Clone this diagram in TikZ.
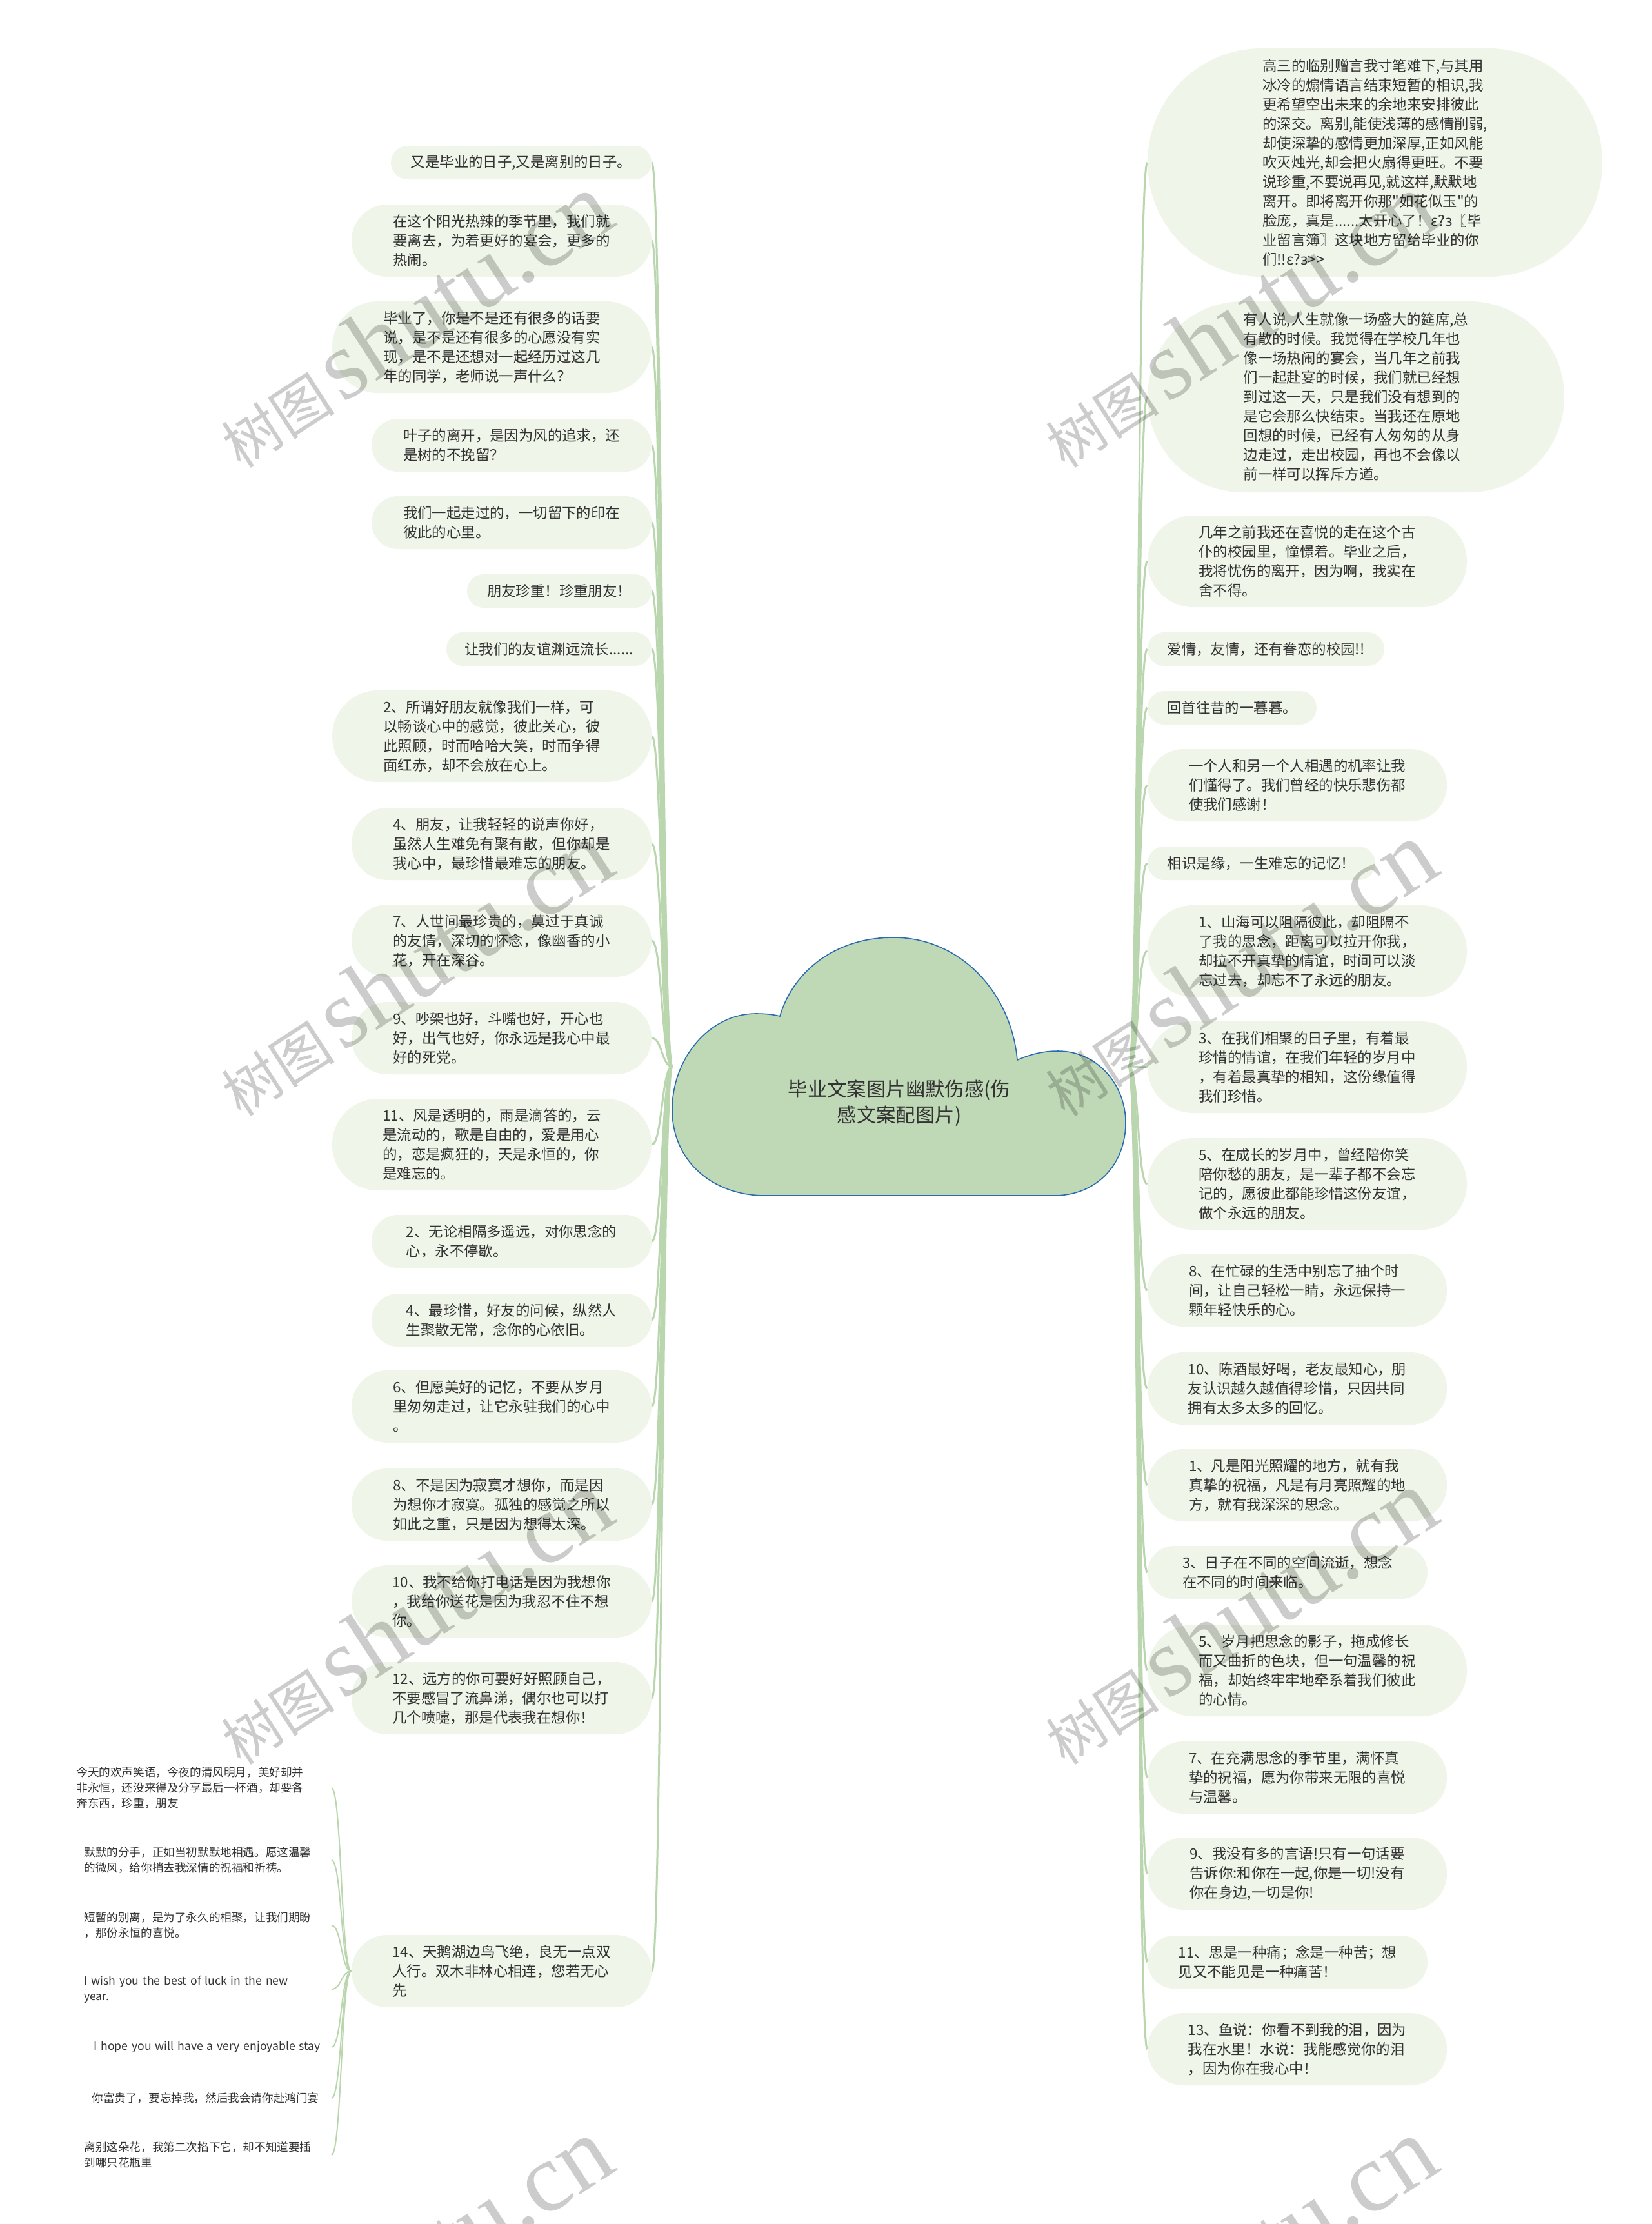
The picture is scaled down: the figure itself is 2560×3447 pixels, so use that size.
\documentclass[tikz,border=0pt]{standalone}
\usepackage{fontspec}
\setmainfont{Noto Sans CJK SC}[Ligatures=TeXOff]
\newfontfamily\wmlat{Liberation Serif}[Ligatures=TeXOff]
\usetikzlibrary{backgrounds}
\pgfdeclarelayer{fg}
\pgfsetlayers{background,main,fg}
\definecolor{nodefill}{HTML}{EFF5E8}
\definecolor{linec}{HTML}{B9D6AF}
\definecolor{cloudfill}{HTML}{BFD9B7}
\definecolor{cloudline}{HTML}{2B6CB0}
\definecolor{txt}{HTML}{333333}
\tikzset{
  pillbox/.style={fill=nodefill, inner sep=0pt, align=left, text=txt,
    font=\fontsize{11.2pt}{15pt}\selectfont},
  subbox/.style={inner sep=0pt, align=left, text=txt, anchor=west,
    font=\fontsize{8.8pt}{12pt}\selectfont},
  conn/.style={draw=linec, line width=1.5pt},
  subconn/.style={draw=linec, line width=1pt},
  wm/.style={text=black, text opacity=0.2, inner sep=0pt, rotate=33},
}
\newcommand\mkpill[6]{%
  \pgfmathsetmacro\pw{#4/2}%
  \pgfmathsetmacro\ph{#5/2}%
  \pgfmathsetmacro\pr{#5/4}%
  \node[pillbox,minimum width=\pw pt,minimum height=\ph pt,rounded corners=\pr pt] (#1) at (#2,#3) {#6};}
\newcommand\mksub[4]{%
  \pgfmathsetmacro\tw{(513-#2)/2}%
  \node[subbox,text width=\tw pt] (#1) at (#2,#3) {#4};}
\newcommand\wmtext{{\fontsize{44pt}{44pt}\selectfont 树图}\hspace{6pt}{\wmlat\fontsize{76pt}{76pt}\selectfont shutu.cn}}
\begin{document}
\begin{tikzpicture}[x=0.5pt,y=-0.5pt]
\useasboundingbox (0,0) rectangle (2560,3447);
\begin{pgfonlayer}{background}
\fill[white] (0,0) rectangle (2560,3447);
\end{pgfonlayer}

% central cloud
\path[fill=cloudfill, draw=cloudline, line width=0.8pt]
  (1186,1853) -- (1634,1853)
  .. controls (1700,1853) and (1745,1805) .. (1745,1740)
  .. controls (1745,1680) and (1700,1629) .. (1640,1629)
  .. controls (1615,1629) and (1595,1635) .. (1577,1643)
  .. controls (1568,1540) and (1490,1453) .. (1385,1453)
  .. controls (1290,1453) and (1228,1510) .. (1209,1575)
  .. controls (1198,1572) and (1185,1571) .. (1172,1571)
  .. controls (1100,1571) and (1042,1640) .. (1042,1720)
  .. controls (1042,1800) and (1105,1853) .. (1186,1853) -- cycle;
\node[align=center, text=txt, inner sep=0pt, font=\fontsize{15.2pt}{20pt}\selectfont] (root) at (1394,1710) {毕业文案图片幽默伤感(伤\\感文案配图片)};
\coordinate (jl) at (1042,1653);
\coordinate (jr) at (1750,1653);

% left nodes
\mkpill{l1}{808}{252}{404}{52}{又是毕业的日子,又是离别的日子。}
\mkpill{l2}{777.5}{373}{465}{112}{在这个阳光热辣的季节里，我们就\\要离去，为着更好的宴会，更多的\\热闹。}
\mkpill{l3}{762.5}{538}{495}{142}{毕业了，你是不是还有很多的话要\\说，是不是还有很多的心愿没有实\\现，是不是还想对一起经历过这几\\年的同学，老师说一声什么？}
\mkpill{l4}{793}{690}{434}{82}{叶子的离开，是因为风的追求，还\\是树的不挽留？}
\mkpill{l5}{793}{810}{434}{82}{我们一起走过的，一切留下的印在\\彼此的心里。}
\mkpill{l6}{867}{916}{286}{52}{朋友珍重！珍重朋友！}
\mkpill{l7}{851}{1006}{318}{52}{让我们的友谊渊远流长......}
\mkpill{l8}{762.5}{1141}{495}{142}{2、所谓好朋友就像我们一样，可\\以畅谈心中的感觉，彼此关心，彼\\此照顾，时而哈哈大笑，时而争得\\面红赤，却不会放在心上。}
\mkpill{l9}{777.5}{1308}{465}{112}{4、朋友，让我轻轻的说声你好，\\虽然人生难免有聚有散，但你却是\\我心中，最珍惜最难忘的朋友。}
\mkpill{l10}{777.5}{1458}{465}{112}{7、人世间最珍贵的，莫过于真诚\\的友情，深切的怀念，像幽香的小\\花，开在深谷。}
\mkpill{l11}{777.5}{1609}{465}{112}{9、吵架也好，斗嘴也好，开心也\\好，出气也好，你永远是我心中最\\好的死党。}
\mkpill{l12}{762.5}{1774}{495}{142}{11、风是透明的，雨是滴答的，云\\是流动的，歌是自由的，爱是用心\\的，恋是疯狂的，天是永恒的，你\\是难忘的。}
\mkpill{l13}{793}{1924}{434}{82}{2、无论相隔多遥远，对你思念的\\心，永不停歇。}
\mkpill{l14}{793}{2046}{434}{82}{4、最珍惜，好友的问候，纵然人\\生聚散无常，念你的心依旧。}
\mkpill{l15}{777.5}{2180}{465}{112}{6、但愿美好的记忆，不要从岁月\\里匆匆走过，让它永驻我们的心中\\。}
\mkpill{l16}{777.5}{2332}{465}{112}{8、不是因为寂寞才想你，而是因\\为想你才寂寞。孤独的感觉之所以\\如此之重，只是因为想得太深。}
\mkpill{l17}{777.5}{2482}{465}{112}{10、我不给你打电话是因为我想你\\，我给你送花是因为我忍不住不想\\你。}
\mkpill{l18}{777.5}{2632}{465}{112}{12、远方的你可要好好照顾自己，\\不要感冒了流鼻涕，偶尔也可以打\\几个喷嚏，那是代表我在想你！}
\mkpill{l19}{777.5}{3055}{465}{112}{14、天鹅湖边鸟飞绝，良无一点双\\人行。双木非林心相连，您若无心\\先}

% sub nodes of l19
\mksub{s1}{118}{2771}{今天的欢声笑语，今夜的清风明月，美好却并\\非永恒，还没来得及分享最后一杯酒，却要各\\奔东西，珍重，朋友}
\mksub{s2}{130}{2883}{默默的分手，正如当初默默地相遇。愿这温馨\\的微风，给你捎去我深情的祝福和祈祷。}
\mksub{s3}{130}{2984}{短暂的别离，是为了永久的相聚，让我们期盼\\，那份永恒的喜悦。}
\mksub{s4}{130}{3083}{\mbox{I wish you the best of luck in the new}\\\mbox{year.}}
\mksub{s5}{145}{3173}{\mbox{I hope you will have a very enjoyable stay}}
\mksub{s6}{142}{3252}{你富贵了，要忘掉我，然后我会请你赴鸿门宴}
\mksub{s7}{130}{3340}{离别这朵花，我第二次掐下它，却不知道要插\\到哪只花瓶里}

% right nodes
\mkpill{r1}{2131.5}{252}{705}{354}{高三的临别赠言我寸笔难下,与其用\\冰冷的煽情语言结束短暂的相识,我\\更希望空出未来的余地来安排彼此\\的深交。离别,能使浅薄的感情削弱,\\却使深挚的感情更加深厚,正如风能\\吹灭烛光,却会把火扇得更旺。不要\\说珍重,不要说再见,就这样,默默地\\离开。即将离开你那"如花似玉"的\\脸庞，真是......太开心了！ε?з〖毕\\业留言簿〗这块地方留给毕业的你\\们!!ε?з>\kern1pt>}
\mkpill{r2}{2102}{615}{646}{296}{有人说,人生就像一场盛大的筵席,总\\有散的时候。我觉得在学校几年也\\像一场热闹的宴会，当几年之前我\\们一起赴宴的时候，我们就已经想\\到过这一天，只是我们没有想到的\\是它会那么快结束。当我还在原地\\回想的时候，已经有人匆匆的从身\\边走过，走出校园，再也不会像以\\前一样可以挥斥方遒。}
\mkpill{r3}{2026.5}{870}{495}{142}{几年之前我还在喜悦的走在这个古\\仆的校园里，憧憬着。毕业之后，\\我将忧伤的离开，因为啊，我实在\\舍不得。}
\mkpill{r4}{1962.5}{1006}{367}{52}{爱情，友情，还有眷恋的校园!!}
\mkpill{r5}{1910}{1097}{262}{52}{回首往昔的一暮暮。}
\mkpill{r6}{2011}{1217}{464}{112}{一个人和另一个人相遇的机率让我\\们懂得了。我们曾经的快乐悲伤都\\使我们感谢！}
\mkpill{r7}{1955.5}{1338}{353}{52}{相识是缘，一生难忘的记忆！}
\mkpill{r8}{2026.5}{1474}{495}{142}{1、山海可以阻隔彼此，却阻隔不\\了我的思念，距离可以拉开你我，\\却拉不开真挚的情谊，时间可以淡\\忘过去，却忘不了永远的朋友。}
\mkpill{r9}{2026.5}{1654}{495}{142}{3、在我们相聚的日子里，有着最\\珍惜的情谊，在我们年轻的岁月中\\，有着最真挚的相知，这份缘值得\\我们珍惜。}
\mkpill{r10}{2026.5}{1835}{495}{142}{5、在成长的岁月中，曾经陪你笑\\陪你愁的朋友，是一辈子都不会忘\\记的，愿彼此都能珍惜这份友谊，\\做个永远的朋友。}
\mkpill{r11}{2011}{2000}{464}{112}{8、在忙碌的生活中别忘了抽个时\\间，让自己轻松一睛，永远保持一\\颗年轻快乐的心。}
\mkpill{r12}{2011}{2152}{464}{112}{10、陈酒最好喝，老友最知心，朋\\友认识越久越值得珍惜，只因共同\\拥有太多太多的回忆。}
\mkpill{r13}{2011}{2302}{464}{112}{1、凡是阳光照耀的地方，就有我\\真挚的祝福，凡是有月亮照耀的地\\方，就有我深深的思念。}
\mkpill{r14}{1996}{2437}{434}{82}{3、日子在不同的空间流逝，想念\\在不同的时间来临。}
\mkpill{r15}{2026.5}{2589}{495}{142}{5、岁月把思念的影子，拖成修长\\而又曲折的色块，但一句温馨的祝\\福，却始终牢牢地牵系着我们彼此\\的心情。}
\mkpill{r16}{2011}{2755}{464}{112}{7、在充满思念的季节里，满怀真\\挚的祝福，愿为你带来无限的喜悦\\与温馨。}
\mkpill{r17}{2011}{2904}{464}{112}{9、我没有多的言语!只有一句话要\\告诉你:和你在一起,你是一切!没有\\你在身边,一切是你!}
\mkpill{r18}{1996}{3041}{434}{82}{11、思是一种痛；念是一种苦；想\\见又不能见是一种痛苦！}
\mkpill{r19}{2011}{3176}{464}{112}{13、鱼说：你看不到我的泪，因为\\我在水里！水说：我能感觉你的泪\\，因为你在我心中！}

% connectors
\begin{pgfonlayer}{background}
\foreach \n in {l1,l2,l3,l4,l5,l6,l7,l8,l9,l10,l11,l12,l13,l14,l15,l16,l17,l18,l19}
  \draw[conn] (jl) .. controls +(-16,0) and +(16,0) .. (\n.east);
\foreach \n in {r1,r2,r3,r4,r5,r6,r7,r8,r9,r10,r11,r12,r13,r14,r15,r16,r17,r18,r19}
  \draw[conn] (jr) .. controls +(16,0) and +(-16,0) .. (\n.west);
\foreach \n in {s1,s2,s3,s4,s5,s6,s7}
  \draw[subconn] (l19.west) .. controls +(-16,0) and +(16,0) .. (\n.east);
\end{pgfonlayer}

% watermark
\begin{pgfonlayer}{fg}
\node[wm] (w1) at (640,496) {\wmtext};
\node[wm] (w2) at (1918,496) {\wmtext};
\node[wm] (w3) at (640,1501) {\wmtext};
\node[wm] (w4) at (1918,1501) {\wmtext};
\node[wm] (w5) at (640,2506) {\wmtext};
\node[wm] (w6) at (1918,2506) {\wmtext};
\node[wm] (w7) at (640,3511) {\wmtext};
\node[wm] (w8) at (1918,3511) {\wmtext};
\end{pgfonlayer}
\end{tikzpicture}
\end{document}
